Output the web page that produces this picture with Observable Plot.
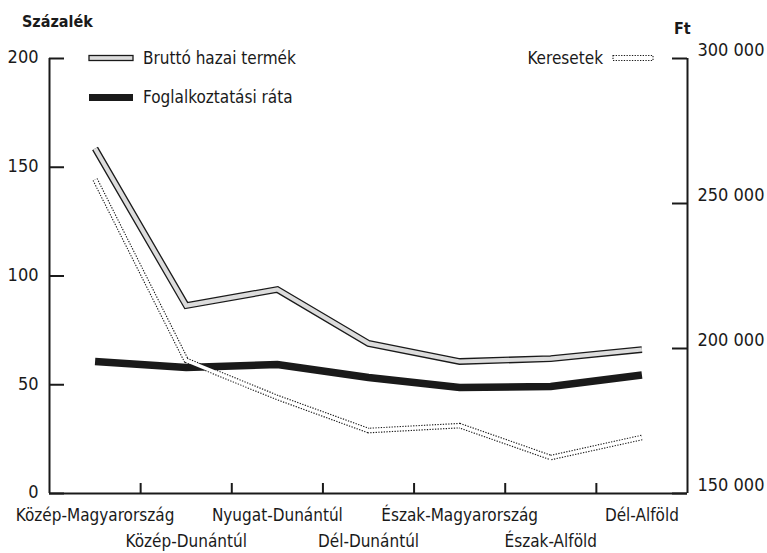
<!DOCTYPE html>
<html><head><meta charset="utf-8">
<script src="https://cdn.jsdelivr.net/npm/d3@7"></script>
<script src="https://cdn.jsdelivr.net/npm/@observablehq/plot@0.6"></script>
<style>
body{margin:0;background:#fff;}
#wrap{width:767px;height:553px;}
svg text{font-stretch:condensed;}
</style></head><body><div id="wrap"></div>
<script>
// ---- data ----
const regions = ["Közép-Magyarország","Közép-Dunántúl","Nyugat-Dunántúl","Dél-Dunántúl","Észak-Magyarország","Észak-Alföld","Dél-Alföld"];
const gdp = [158.6, 86.4, 93.8, 69, 60.7, 62, 66.2];            // Bruttó hazai termék, %
const employment = [60.7, 57.9, 59.3, 53.3, 48.7, 49.2, 54.5];  // Foglalkoztatási ráta, %
const earnings = [258300, 195900, 183100, 171700, 173400, 162400, 169300]; // Keresetek, Ft
const leftTicks = [0, 50, 100, 150, 200];
const rightTicks = [150000, 200000, 250000, 300000];
const rightTickLabels = ["150 000", "200 000", "250 000", "300 000"];

// ---- layout ----
const W = 767, H = 553, mL = 49, mR = 80, mT = 58, mB = 60;
const frameW = W - mL - mR, frameH = H - mT - mB;
const FONT = '"DejaVu Sans Condensed","DejaVu Sans",sans-serif';
const INK = "#1a1a1a";
const FS = 18, FS_LABEL = 17;

// right (Ft) axis mapped onto the left (%) scale
const toY = ft => (ft - 150000) / 150000 * 200;

const table = regions.map((r, i) => ({i, region: r, gdp: gdp[i], emp: employment[i], earn: toY(earnings[i])}));
const n = regions.length;
const bounds = d3.range(1, n).map(k => k - 0.5);
const lineOpts = {x: "i", strokeLinejoin: "miter", strokeLinecap: "butt", strokeMiterlimit: 10};

const plot = Plot.plot({
  width: W, height: H,
  marginLeft: mL, marginRight: mR, marginTop: mT, marginBottom: mB,
  style: {fontFamily: FONT, fontSize: FS + "px", color: INK, background: "white"},
  x: {type: "linear", domain: [-0.5, n - 0.5], axis: null},
  y: {domain: [0, 200], axis: null},
  marks: [
    // data lines
    Plot.line(table, {...lineOpts, y: "gdp", stroke: INK, strokeWidth: 6.8}),
    Plot.line(table, {...lineOpts, y: "gdp", stroke: "#dcdcdc", strokeWidth: 4.2}),
    Plot.line(table, {...lineOpts, y: "emp", stroke: INK, strokeWidth: 7.5}),
    Plot.line(table, {...lineOpts, y: "earn", stroke: INK, strokeWidth: 5.6, strokeDasharray: "1.3,1.4"}),
    Plot.line(table, {...lineOpts, y: "earn", stroke: "white", strokeWidth: 3.4}),
    // axes lines
    Plot.ruleX([-0.5, n - 0.5], {stroke: INK, strokeWidth: 2}),
    Plot.ruleY([0], {stroke: INK, strokeWidth: 2.2}),
    // inward ticks
    Plot.tickY(leftTicks, {y: d => d, insetRight: frameW - 15, stroke: INK, strokeWidth: 2}),
    Plot.tickY(rightTicks, {y: toY, insetLeft: frameW - 15, stroke: INK, strokeWidth: 2}),
    Plot.tickX(bounds, {x: d => d, insetTop: frameH - 10, stroke: INK, strokeWidth: 2}),
    // tick labels
    Plot.text(leftTicks, {y: d => d, text: d => String(d), frameAnchor: "left", dx: -11, dy: -1, textAnchor: "end", fill: INK}),
    Plot.text(rightTicks, {y: toY, text: (d, i) => rightTickLabels[i], frameAnchor: "right", dx: 10, dy: -8, textAnchor: "start", fill: INK}),
    Plot.text(table, {filter: d => d.i % 2 === 0, x: "i", text: "region", frameAnchor: "bottom", dy: 27, fill: INK, fontSize: FS_LABEL}),
    Plot.text(table, {filter: d => d.i % 2 === 1, x: "i", text: "region", frameAnchor: "bottom", dy: 53, fill: INK, fontSize: FS_LABEL})
  ]
});

// axis titles + legend
const svg = d3.select(plot);
const g = svg.append("g").attr("font-family", FONT).attr("fill", INK).attr("text-anchor", "start");
g.append("text").attr("x", 22).attr("y", 27).attr("font-size", 16).attr("font-weight", "bold").text("Százalék");
g.append("text").attr("x", 674).attr("y", 34).attr("font-size", 16).attr("font-weight", "bold").text("Ft");

g.append("rect").attr("x", 89).attr("y", 55.5).attr("width", 44).attr("height", 5)
  .attr("fill", "#dcdcdc").attr("stroke", INK).attr("stroke-width", 1.3);
g.append("text").attr("x", 143).attr("y", 58).attr("dy", "0.35em").attr("font-size", FS_LABEL).text("Bruttó hazai termék");

g.append("rect").attr("x", 89).attr("y", 94).attr("width", 44).attr("height", 7).attr("fill", INK);
g.append("text").attr("x", 143).attr("y", 97.5).attr("dy", "0.35em").attr("font-size", FS_LABEL).text("Foglalkoztatási ráta");

g.append("text").attr("x", 603).attr("y", 58).attr("dy", "0.35em").attr("text-anchor", "end").attr("font-size", FS_LABEL).text("Keresetek");
g.append("rect").attr("x", 613).attr("y", 55.5).attr("width", 40).attr("height", 5)
  .attr("fill", "white").attr("stroke", INK).attr("stroke-width", 1.1).attr("stroke-dasharray", "1.3,1.4");

document.getElementById("wrap").appendChild(plot);
</script></body></html>
